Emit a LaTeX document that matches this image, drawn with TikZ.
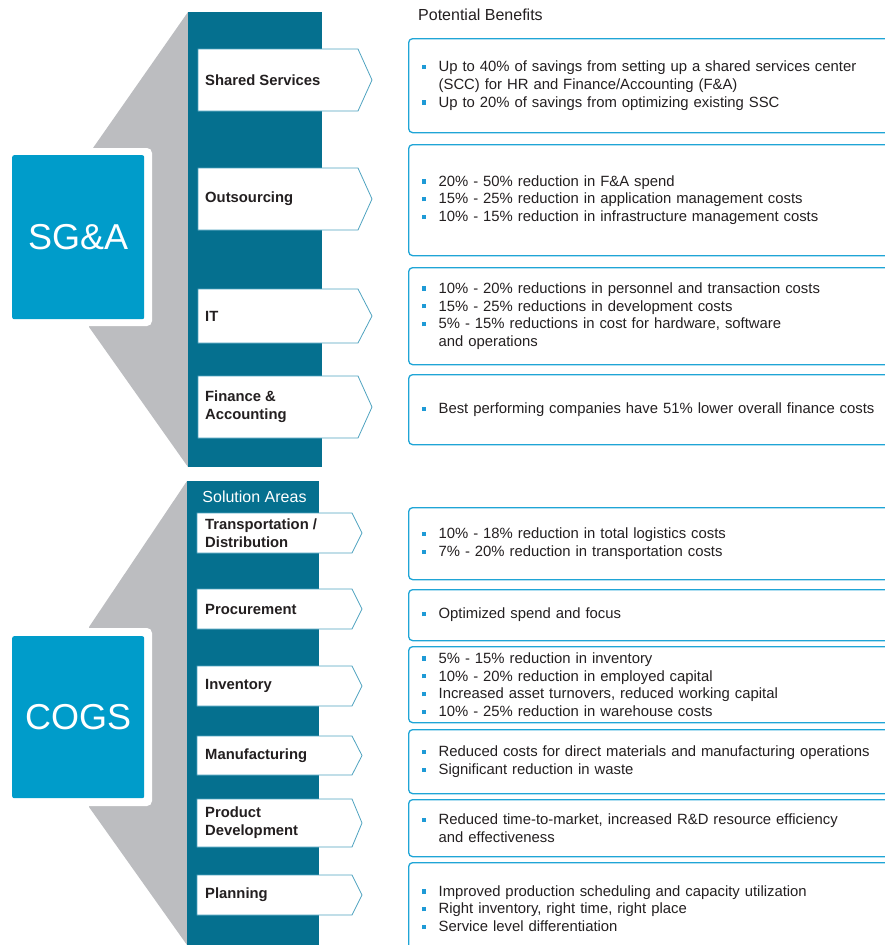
\documentclass[tikz,border=0pt]{standalone}
\usepackage{fontspec}
\setmainfont{Liberation Sans}
\definecolor{colteal}{HTML}{05708F}
\definecolor{catblue}{HTML}{009CCA}
\definecolor{fangray}{HTML}{BCBDC0}
\definecolor{arrowedge}{HTML}{4FA3C0}
\definecolor{boxedge}{HTML}{1FA5D6}
\definecolor{bulblue}{HTML}{1E9AD6}
\definecolor{ink}{HTML}{231F20}
\newcommand{\bul}{\makebox[0pt][r]{\textcolor{bulblue}{\rule[2.6pt]{4.2pt}{4.2pt}}\hspace{12.6pt}}}
\tikzset{
  catbox/.style={fill=catblue, rounded corners=2pt, anchor=north west, minimum width=132pt,
    text=white, font=\fontsize{36}{40}\selectfont},
  areabox/.style={fill=white, draw=arrowedge, line width=0.8pt},
  arealabel/.style={anchor=west, inner sep=0pt, align=left, text=ink,
    font=\bfseries\fontsize{14.8}{18}\selectfont},
  benbox/.style={draw=boxedge, line width=1.3pt, rounded corners=4pt, anchor=north west,
    text width=480pt, inner xsep=30pt, inner ysep=0pt, align=left, text=ink,
    font=\fontsize{14.85}{17.8}\selectfont},
}
\begin{document}
\begin{tikzpicture}[x=1pt,y=-1pt]
  \useasboundingbox (0,0) rectangle (885,945);
  \clip (0,0) rectangle (885,945);

  % SG&A block
  \fill[fangray] (188,12) -- (93,148) -- (89,327) -- (188,467) -- cycle;
  \fill[colteal] (188,12) rectangle (322,467);
  \fill[white, rounded corners=5pt] (4,148) rectangle (152,326);
  \node[catbox, minimum height=164pt] (sga) at (12,155) {SG\&A};

  \draw[areabox] (198,49) -- (358,49) -- (372,80) -- (358,111) -- (198,111) -- cycle;
  \node[arealabel] (ss) at (205,80) {Shared Services};
  \draw[areabox] (198,168) -- (358,168) -- (372,199) -- (358,230) -- (198,230) -- cycle;
  \node[arealabel] (out) at (205,199) {Outsourcing};
  \draw[areabox] (198,289) -- (358,289) -- (372,316) -- (358,343) -- (198,343) -- cycle;
  \node[arealabel] (it) at (205,316) {IT};
  \draw[areabox] (198,376) -- (358,376) -- (372,407) -- (358,438) -- (198,438) -- cycle;
  \node[arealabel] (fa) at (205,407) {Finance \&\\Accounting};

  % COGS block
  \fill[fangray] (187,481) -- (89,627) -- (89,807) -- (187,945) -- cycle;
  \fill[colteal] (187,481) rectangle (319,950);
  \fill[white, rounded corners=5pt] (4,628) rectangle (152,806);
  \node[catbox, minimum height=162pt] (cogs) at (12,636) {COGS};
  \node[text=white, font=\fontsize{16}{18}\selectfont] (solareas) at (254.5,497) {Solution Areas};

  \draw[areabox] (197,513) -- (352,513) -- (362,533) -- (352,553) -- (197,553) -- cycle;
  \node[arealabel] (td) at (205,533) {Transportation /\\Distribution};
  \draw[areabox] (197,589) -- (352,589) -- (362,609) -- (352,629) -- (197,629) -- cycle;
  \node[arealabel] (proc) at (205,609) {Procurement};
  \draw[areabox] (197,666) -- (352,666) -- (362,686) -- (352,706) -- (197,706) -- cycle;
  \node[arealabel] (inv) at (205,686) {Inventory};
  \draw[areabox] (197,736) -- (352,736) -- (362,755.5) -- (352,775) -- (197,775) -- cycle;
  \node[arealabel] (man) at (205,755.5) {Manufacturing};
  \draw[areabox] (197,799) -- (352,799) -- (362,823) -- (352,847) -- (197,847) -- cycle;
  \node[arealabel] (pd) at (205,823) {Product\\Development};
  \draw[areabox] (197,875) -- (352,875) -- (362,895) -- (352,915) -- (197,915) -- cycle;
  \node[arealabel] (plan) at (205,895) {Planning};

  % benefits
  \node[anchor=west, inner sep=0pt, text=ink, font=\fontsize{16}{18}\selectfont] (head) at (418,15) {Potential Benefits};

  \node[benbox, minimum height=94pt] (b1) at (408,38)
    {\bul Up to 40\% of savings from setting up a shared services center\\
     (SCC) for HR and Finance/Accounting (F\&A)\\
     \bul Up to 20\% of savings from optimizing existing SSC};
  \node[benbox, minimum height=111pt] (b2) at (408,144)
    {\bul 20\% - 50\% reduction in F\&A spend\\
     \bul 15\% - 25\% reduction in application management costs\\
     \bul 10\% - 15\% reduction in infrastructure management costs};
  \node[benbox, minimum height=97pt] (b3) at (408,267)
    {\bul 10\% - 20\% reductions in personnel and transaction costs\\
     \bul 15\% - 25\% reductions in development costs\\
     \bul 5\% - 15\% reductions in cost for hardware, software\\
     and operations};
  \node[benbox, minimum height=70pt] (b4) at (408,374)
    {\bul Best performing companies have 51\% lower overall finance costs};

  \node[benbox, minimum height=72pt] (b5) at (408,507)
    {\bul 10\% - 18\% reduction in total logistics costs\\
     \bul 7\% - 20\% reduction in transportation costs};
  \node[benbox, minimum height=51pt] (b6) at (408,589)
    {\bul Optimized spend and focus};
  \node[benbox, minimum height=76pt] (b7) at (408,646)
    {\bul 5\% - 15\% reduction in inventory\\
     \bul 10\% - 20\% reduction in employed capital\\
     \bul Increased asset turnovers, reduced working capital\\
     \bul 10\% - 25\% reduction in warehouse costs};
  \node[benbox, minimum height=64pt] (b8) at (408,729)
    {\bul Reduced costs for direct materials and manufacturing operations\\
     \bul Significant reduction in waste};
  \node[benbox, minimum height=57pt] (b9) at (408,799)
    {\bul Reduced time-to-market, increased R\&D resource efficiency\\
     and effectiveness};
  \node[benbox, minimum height=92pt] (b10) at (408,862)
    {\bul Improved production scheduling and capacity utilization\\
     \bul Right inventory, right time, right place\\
     \bul Service level differentiation};
\end{tikzpicture}
\end{document}
